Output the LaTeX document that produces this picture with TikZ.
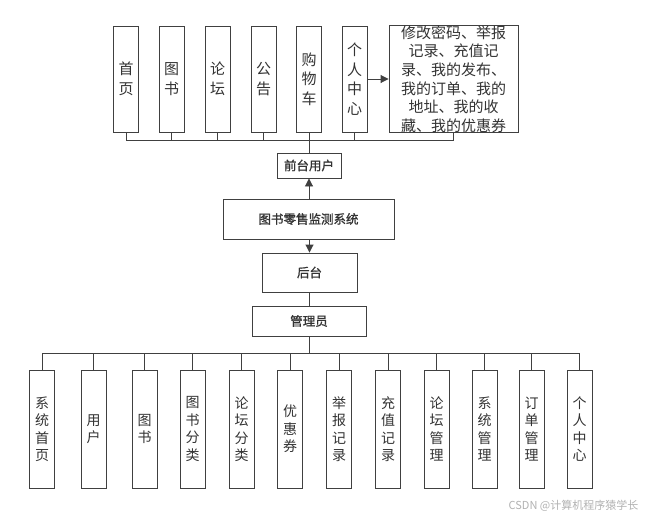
\documentclass[tikz,border=0pt]{standalone}
\usepackage{fontspec}
\newfontfamily\cjk{Noto Sans CJK SC}
\newfontfamily\cjkb[FakeBold=1.2]{Noto Sans CJK SC}
\usetikzlibrary{arrows.meta}
\definecolor{edge}{HTML}{404040}
\definecolor{txt}{HTML}{333333}
\tikzset{
  box/.style={draw=edge, line width=0.9pt, inner sep=0pt, text=txt, align=center},
  topbox/.style={box, minimum width=25pt, minimum height=106pt, font=\cjk\fontsize{15}{19.5}\selectfont},
  botbox/.style={box, minimum width=25pt, minimum height=118pt, font=\cjk\fontsize{14}{17.5}\selectfont},
  midbox/.style={box, font=\cjkb\fontsize{12.5}{14}\selectfont},
  conn/.style={draw=edge, line width=0.9pt},
  arr/.style={conn, -{Triangle[length=8pt,width=8pt]}}
}
\begin{document}
\begin{tikzpicture}[x=1pt,y=-1pt]
\useasboundingbox[fill=white] (0,0) rectangle (648,517);
% top boxes
\node[topbox] (t1) at (126,79) {首\\页};
\node[topbox] (t2) at (171.5,79) {图\\书};
\node[topbox] (t3) at (217.5,79) {论\\坛};
\node[topbox] (t4) at (263.5,79) {公\\告};
\node[topbox] (t5) at (309,79) {购\\物\\车};
\node[topbox] (t6) at (354.5,79) {个\\人\\中\\心};
\node[box, minimum width=129pt, minimum height=106pt, text width=127pt, font=\cjk\fontsize{15}{18.6}\selectfont] (t7) at (453.5,79)
  {修改密码、举报\\记录、充值记\\录、我的发布、\\我的订单、我的\\地址、我的收\\藏、我的优惠券};
\draw[arr] (t6.east) -- (t7.west);
% front user
\node[midbox, minimum width=64pt, minimum height=25pt] (front) at (309,165.5) {前台用户};
\coordinate (tb) at (309,140);
\foreach \n in {t1,t2,t3,t4,t5,t6,t7} \draw[conn] (\n.south) -- (\n.south |- tb);
\draw[conn] (t1.south |- tb) -- (t7.south |- tb);
\draw[conn] (tb) -- (front.north);
% system
\node[midbox, minimum width=171pt, minimum height=40pt] (sys) at (308.5,219) {图书零售监测系统};
\draw[arr] (sys.north -| front) -- (front.south);
\node[midbox, minimum width=95pt, minimum height=39pt] (back) at (309.5,272.5) {后台};
\draw[arr] (sys.south -| back) -- (back.north);
\node[midbox, minimum width=114pt, minimum height=30pt] (admin) at (309,321) {管理员};
\draw[conn] (back.south -| admin) -- (admin.north);
% bottom boxes
\node[botbox] (b1) at (42,429) {系\\统\\首\\页};
\node[botbox] (b2) at (93.5,429) {用\\户};
\node[botbox] (b3) at (144.5,429) {图\\书};
\node[botbox] (b4) at (192.5,429) {图\\书\\分\\类};
\node[botbox] (b5) at (241.5,429) {论\\坛\\分\\类};
\node[botbox] (b6) at (290,429) {优\\惠\\券};
\node[botbox] (b7) at (339,429) {举\\报\\记\\录};
\node[botbox] (b8) at (388,429) {充\\值\\记\\录};
\node[botbox] (b9) at (436.5,429) {论\\坛\\管\\理};
\node[botbox] (b10) at (484.5,429) {系\\统\\管\\理};
\node[botbox] (b11) at (531.5,429) {订\\单\\管\\理};
\node[botbox] (b12) at (579.5,429) {个\\人\\中\\心};
\coordinate (bb) at (309,353);
\foreach \n in {b1,b2,b3,b4,b5,b6,b7,b8,b9,b10,b11,b12} \draw[conn] (\n.north) -- (\n.north |- bb);
\draw[conn] (b1.north |- bb) -- (b12.north |- bb);
\draw[conn] (admin.south) -- (admin.south |- bb);
% watermark
\node[text=black!30, font=\cjk\fontsize{11}{13}\selectfont, inner sep=0pt] (wm) at (573.5,506) {CSDN @计算机程序猿学长};
\end{tikzpicture}
\end{document}
